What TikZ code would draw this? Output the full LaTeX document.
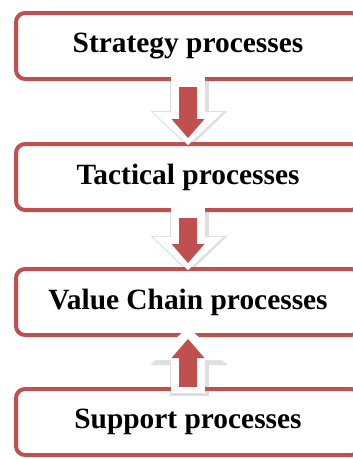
\documentclass[tikz,border=0pt]{standalone}
\usepackage{fontspec}
\setmainfont{Liberation Serif}
\usetikzlibrary{arrows.meta,positioning}
\definecolor{accent}{HTML}{C0504D}
\definecolor{shade}{HTML}{7F7F7F}
\tikzset{
  procbox/.style={
    draw=accent, line width=4pt, fill=white, rounded corners=9pt,
    minimum width=344pt, minimum height=66pt,
    font=\fontsize{29.4}{34}\selectfont\bfseries
  },
  flowshade/.style={draw=shade, opacity=.25, line width=39pt,
    -{Triangle[width=77pt,length=37pt,line width=0pt]}},
  flowhalo/.style={draw=white, line width=34pt,
    -{Triangle[width=70pt,length=33pt,line width=0pt]}},
  flowbody/.style={draw=accent, line width=18pt,
    -{Triangle[width=33pt,length=19pt,line width=0pt]}}
}

\begin{document}
\begin{tikzpicture}[node distance=61pt]
  \useasboundingbox (0,0) rectangle (353pt,-459pt);
  \node[procbox] (strategy) at (188pt,-46pt) {Strategy processes};
  \node[procbox, below=of strategy] (tactical) {Tactical processes};
  \node[procbox, below=55pt of tactical] (valuechain) {Value Chain processes};
  \node[procbox, below=50pt of valuechain] (support) {Support processes};
  % downward flows
  \foreach \a/\b in {strategy/tactical, tactical/valuechain} {
    \draw[flowshade] ([shift={(1pt,2pt)}]\a.south) -- ([shift={(1pt,-6pt)}]\b.north);
    \draw[flowhalo] ([yshift=4pt]\a.south) -- ([yshift=-3pt]\b.north);
    \draw[flowbody] ([yshift=-6pt]\a.south) -- ([yshift=4pt]\b.north);
  }
  % support feeds the value chain
  \draw[flowshade] ([shift={(1pt,-9pt)}]support.north) -- ([shift={(1pt,9pt)}]valuechain.south);
  \draw[flowhalo] ([yshift=-6pt]support.north) -- ([yshift=10pt]valuechain.south);
  \draw[flowbody] (support.north) -- ([yshift=-2pt]valuechain.south);
\end{tikzpicture}
\end{document}
